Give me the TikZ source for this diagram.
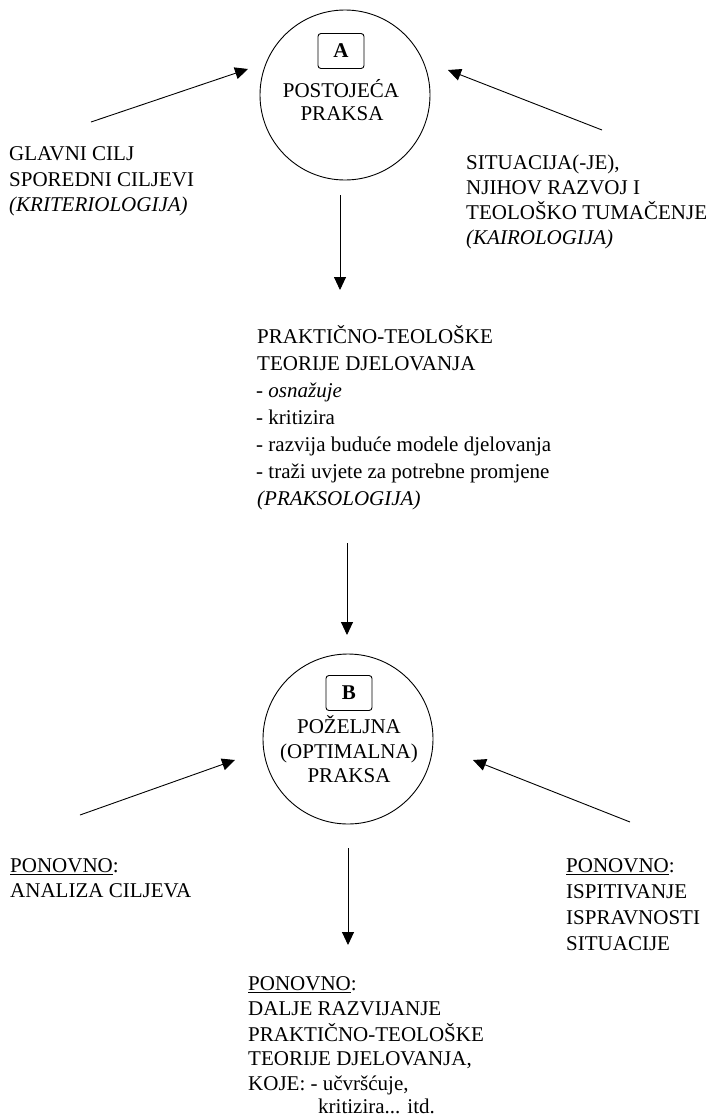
\documentclass[tikz,border=0pt]{standalone}
\usepackage{fontspec}
\setmainfont{Liberation Serif}
\usetikzlibrary{arrows.meta}
\tikzset{
  txt/.style={inner sep=0pt, anchor=base west, font=\fontsize{21}{25}\selectfont},
  ctxt/.style={inner sep=0pt, anchor=base, font=\fontsize{21}{25}\selectfont},
  ring/.style={draw, circle, line width=0.9pt, minimum size=170pt, inner sep=0pt},
  letterbox/.style={draw, rounded corners=3pt, line width=0.9pt, minimum width=46pt, minimum height=35pt, inner sep=0pt, font=\fontsize{21}{25}\selectfont\bfseries},
  arr/.style={line width=0.9pt, -{Triangle[length=13pt, width=12pt]}}
}
\begin{document}
\begin{tikzpicture}[x=1pt,y=-1pt]
\useasboundingbox (0,0) rectangle (712,1120);
% circle A
\node[ring] (A) at (345,95) {};
\node[letterbox] (boxA) at (341,51) {A};
\node[ctxt] (a1) at (341,97) {POSTOJEĆA};
\node[ctxt] (a2) at (342,120) {PRAKSA};
% left text A
\node[txt] (gl1) at (9,160) {GLAVNI CILJ};
\node[txt] (gl2) at (9,186) {SPOREDNI CILJEVI};
\node[txt] (gl3) at (9,211) {\itshape (KRITERIOLOGIJA)};
% right text A
\node[txt] (sr1) at (466,169) {SITUACIJA(-JE),};
\node[txt] (sr2) at (466,194) {NJIHOV RAZVOJ I};
\node[txt] (sr3) at (466,219) {TEOLOŠKO TUMAČENJE};
\node[txt] (sr4) at (466,244) {\itshape (KAIROLOGIJA)};
% middle text
\node[txt] (m1) at (257,343) {PRAKTIČNO-TEOLOŠKE};
\node[txt] (m2) at (257,370) {TEORIJE DJELOVANJA};
\node[txt] (m3) at (256,397) {- \itshape osnažuje};
\node[txt] (m4) at (256,424) {- kritizira};
\node[txt] (m5) at (256,451) {- razvija buduće modele djelovanja};
\node[txt] (m6) at (256,478) {- traži uvjete za potrebne promjene};
\node[txt] (m7) at (257,505) {\itshape (PRAKSOLOGIJA)};
% circle B
\node[ring] (B) at (348,739) {};
\node[letterbox] (boxB) at (349,693) {B};
\node[ctxt] (b1) at (349,733) {POŽELJNA};
\node[ctxt] (b2) at (349,758) {(OPTIMALNA)};
\node[ctxt] (b3) at (349,782) {PRAKSA};
% bottom-left
\node[txt] (bl1) at (10,872) {\underline{PONOVNO}:};
\node[txt] (bl2) at (10,897) {ANALIZA CILJEVA};
% bottom-right
\node[txt] (br1) at (566,872) {\underline{PONOVNO}:};
\node[txt] (br2) at (566,898) {ISPITIVANJE};
\node[txt] (br3) at (566,924) {ISPRAVNOSTI};
\node[txt] (br4) at (566,950) {SITUACIJE};
% bottom
\node[txt] (bb1) at (248,990) {\underline{PONOVNO}:};
\node[txt] (bb2) at (248,1015) {DALJE RAZVIJANJE};
\node[txt] (bb3) at (248,1041) {PRAKTIČNO-TEOLOŠKE};
\node[txt] (bb4) at (248,1065) {TEORIJE DJELOVANJA,};
\node[txt] (bb5) at (248,1090) {KOJE: - učvršćuje,};
\node[txt] (bb6) at (318,1113) {kritizira... itd.};
% arrow coordinates
\coordinate (aLt) at (91,122);
\coordinate (aLh) at (248,69);
\coordinate (aRt) at (602,130);
\coordinate (aRh) at (448,70);
\coordinate (aDs) at (340,195);
\coordinate (aDh) at (340,290);
\coordinate (mDs) at (347,543);
\coordinate (mDh) at (347,635);
\coordinate (bLt) at (80,815);
\coordinate (bLh) at (235,760);
\coordinate (bRt) at (630,822);
\coordinate (bRh) at (473,760);
\coordinate (bDs) at (348,848);
\coordinate (bDh) at (348,945);
% arrows
\draw[arr] (aLt) -- (aLh);
\draw[arr] (aRt) -- (aRh);
\draw[arr] (aDs) -- (aDh);
\draw[arr] (mDs) -- (mDh);
\draw[arr] (bLt) -- (bLh);
\draw[arr] (bRt) -- (bRh);
\draw[arr] (bDs) -- (bDh);
\end{tikzpicture}
\end{document}
